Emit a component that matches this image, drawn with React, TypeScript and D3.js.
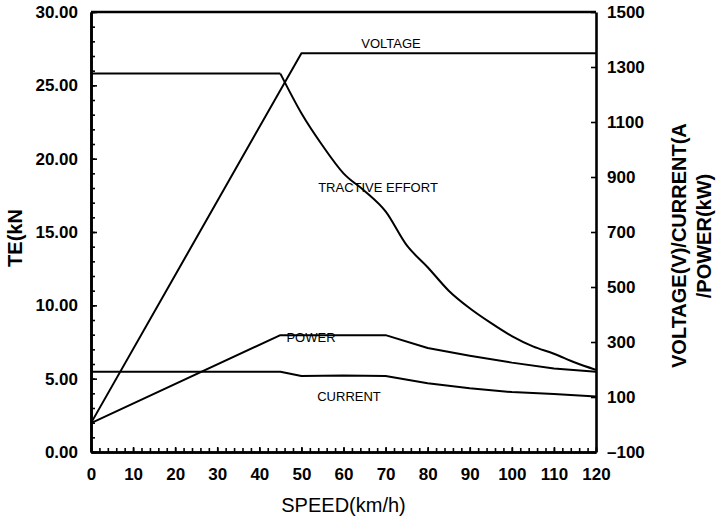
import * as d3 from 'd3'
import {useEffect, useRef} from 'react'

// tractive effort (kN), left axis
const teSpeeds = [0, 45, 50, 55, 60, 65, 70, 75, 80, 85, 90, 95, 100, 105, 110, 115, 120]
const teValues = [25.8, 25.8, 23.1, 20.9, 19.0, 17.8, 16.4, 14.1, 12.6, 11.0, 9.8, 8.8, 7.9, 7.2, 6.7, 6.1, 5.6]

// right axis series
const voltageSpeeds = [0, 50, 120]
const voltageValues = [5, 1350, 1350]
const powerSpeeds = [0, 45, 70, 80, 90, 100, 110, 120]
const powerValues = [5, 325, 325, 278, 250, 225, 204, 192]
const currentSpeeds = [0, 45, 50, 60, 70, 80, 90, 100, 110, 120]
const currentValues = [192, 192, 176, 178, 176, 150, 132, 118, 111, 102]

const speedTicks = [0, 10, 20, 30, 40, 50, 60, 70, 80, 90, 100, 110, 120]
const teTicks = [0, 5, 10, 15, 20, 25, 30]
const rightTicks = [-100, 100, 300, 500, 700, 900, 1100, 1300, 1500]

const font = '"Liberation Sans", Arial, Helvetica, sans-serif'

export default function App() {
  const ref = useRef<SVGSVGElement>(null)

  useEffect(() => {
    const root = d3.select(ref.current)
    root.selectAll('*').remove()
    const margin = {top: 12, right: 128, bottom: 71, left: 91}
    const width = 724 - margin.left - margin.right
    const height = 523 - margin.top - margin.bottom

    const x = d3.scaleLinear().domain([0, 120]).range([0, width])
    const yL = d3.scaleLinear().domain([0, 30]).range([height, 0])
    const yR = d3.scaleLinear().domain([-100, 1500]).range([height, 0])

    root.append('rect').attr('width', 724).attr('height', 523).attr('fill', '#fff')

    const svg = root.append('g').attr('transform', 'translate(' + margin.left + ',' + margin.top + ')')

    const styleAxis = (g: any, labels: boolean) => {
      g.select('.domain').attr('stroke', '#000').attr('stroke-width', 2.6)
      g.selectAll('.tick line').attr('stroke', '#000').attr('stroke-width', 1.6)
      if (labels) {
        g.selectAll('.tick text')
          .attr('fill', '#000')
          .style('font-family', font)
          .style('font-size', '17px')
          .style('font-weight', 'bold')
      }
    }

    // minor ticks
    svg
      .append('g')
      .call(d3.axisLeft(yL).tickValues(d3.range(0, 31, 1)).tickFormat(() => '').tickSizeInner(-4).tickSizeOuter(0))
      .call((g: any) => styleAxis(g, false))
    svg
      .append('g')
      .attr('transform', 'translate(0,' + height + ')')
      .call(d3.axisBottom(x).tickValues(d3.range(0, 121, 2)).tickFormat(() => '').tickSizeInner(-4).tickSizeOuter(0))
      .call((g: any) => styleAxis(g, false))

    // major axes
    svg
      .append('g')
      .call(
        d3
          .axisLeft(yL)
          .tickValues(teTicks)
          .tickFormat(d => d3.format('.2f')(d as number))
          .tickSizeInner(-6)
          .tickSizeOuter(0)
          .tickPadding(13),
      )
      .call((g: any) => styleAxis(g, true))
    svg
      .append('g')
      .attr('transform', 'translate(0,' + height + ')')
      .call(d3.axisBottom(x).tickValues(speedTicks).tickSizeInner(-5).tickSizeOuter(0).tickPadding(16))
      .call((g: any) => styleAxis(g, true))
    svg
      .append('g')
      .attr('transform', 'translate(' + width + ',0)')
      .call(
        d3
          .axisRight(yR)
          .tickValues(rightTicks)
          .tickFormat(d => ((d as number) < 0 ? '\u2013' + Math.abs(d as number) : String(d)))
          .tickSizeInner(-5)
          .tickSizeOuter(0)
          .tickPadding(11),
      )
      .call((g: any) => styleAxis(g, true))

    // top frame
    svg
      .append('line')
      .attr('x1', 0)
      .attr('x2', width)
      .attr('y1', 0)
      .attr('y2', 0)
      .attr('stroke', '#000')
      .attr('stroke-width', 2.6)

    const drawLine = (xs: number[], ys: number[], yScale: d3.ScaleLinear<number, number>, curve: d3.CurveFactory) => {
      const line = d3
        .line<number>()
        .x((_, i) => x(xs[i]))
        .y(d => yScale(d))
        .curve(curve)
      svg
        .append('path')
        .attr('d', line(ys))
        .attr('fill', 'none')
        .attr('stroke', '#000')
        .attr('stroke-width', 2)
        .attr('stroke-linejoin', 'round')
    }
    // flat part straight, falling part smoothed
    drawLine(teSpeeds.slice(0, 2), teValues.slice(0, 2), yL, d3.curveLinear)
    drawLine(teSpeeds.slice(1), teValues.slice(1), yL, d3.curveMonotoneX)
    drawLine(voltageSpeeds, voltageValues, yR, d3.curveLinear)
    drawLine(powerSpeeds, powerValues, yR, d3.curveLinear)
    drawLine(currentSpeeds, currentValues, yR, d3.curveLinear)

    const seriesLabel = (text: string, px: number, py: number) => {
      root
        .append('text')
        .attr('x', px)
        .attr('y', py)
        .attr('text-anchor', 'middle')
        .style('font-family', font)
        .style('font-size', '13px')
        .text(text)
    }
    seriesLabel('VOLTAGE', 391, 48)
    seriesLabel('TRACTIVE EFFORT', 378, 192)
    seriesLabel('POWER', 311, 342)
    seriesLabel('CURRENT', 349, 401)

    // axis titles
    root
      .append('text')
      .attr('transform', 'translate(' + (margin.left + width / 2) + ',512)')
      .attr('text-anchor', 'middle')
      .style('font-family', font)
      .style('font-size', '20px')
      .text('SPEED(km/h)')
    root
      .append('text')
      .attr('transform', 'translate(22,238) rotate(-90)')
      .attr('text-anchor', 'middle')
      .style('font-family', font)
      .style('font-size', '20px')
      .style('font-weight', 'bold')
      .text('TE(kN')
    root
      .append('text')
      .attr('transform', 'translate(686,368) rotate(-90)')
      .attr('text-anchor', 'start')
      .style('font-family', font)
      .style('font-size', '20px')
      .style('font-weight', 'bold')
      .text('VOLTAGE(V)/CURRENT(A')
    root
      .append('text')
      .attr('transform', 'translate(711,236) rotate(-90)')
      .attr('text-anchor', 'middle')
      .style('font-family', font)
      .style('font-size', '20px')
      .style('font-weight', 'bold')
      .text('/POWER(kW)')
  }, [])

  return <svg ref={ref} width={724} height={523} style={{position: 'absolute', left: 0, top: 0}} />
}
